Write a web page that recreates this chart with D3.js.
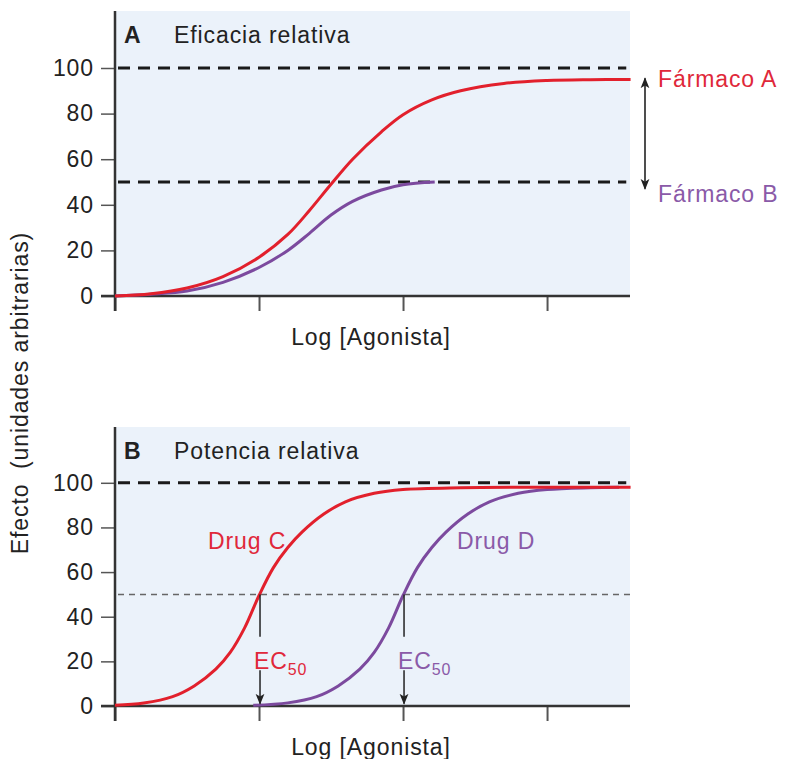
<!DOCTYPE html>
<html>
<head>
<meta charset="utf-8">
<script src="https://cdn.jsdelivr.net/npm/d3@7"></script>
<style>
  body { margin: 0; background: #fff; }
  text { font-family: "Liberation Sans", Arial, sans-serif; letter-spacing: 0.9px; }
</style>
</head>
<body>
<script>
// data: [log concentration, effect]
const farmacoA = [[0,0],[0.25,1],[0.5,3.5],[0.75,8.5],[1,17],[1.2,27],[1.35,37.5],[1.5,49],[1.65,60],[1.85,72],[2,79.5],[2.2,86],[2.4,90],[2.7,93.2],[3,94.5],[3.3,94.9],[3.58,95]];
const farmacoB = [[0,0],[0.25,0.8],[0.5,2.2],[0.75,6],[1,12.5],[1.2,20],[1.35,27.5],[1.5,35.5],[1.65,41.5],[1.85,46.5],[2,48.8],[2.22,50]];
const drugC = [[0,0.3],[0.2,1.3],[0.4,4.2],[0.55,9],[0.7,16.5],[0.8,24],[0.9,35],[1,49.5],[1.1,62],[1.2,71],[1.3,78],[1.45,86],[1.6,91.5],[1.8,95.3],[2,97],[2.4,97.8],[3,98],[3.58,98]];
const drugD = [[0.96,0.3],[1.2,1.4],[1.4,4.2],[1.55,9],[1.7,16.5],[1.8,24],[1.9,35],[2,49.5],[2.1,62],[2.2,71],[2.3,78],[2.45,86],[2.6,91.5],[2.8,95.3],[3,97],[3.3,97.8],[3.5,98]];
const yTicks = [0, 20, 40, 60, 80, 100];
const xTicks = [0, 1, 2, 3];
const ec50 = [1, 2];          // log EC50 of drug C and drug D
const refA = [100, 50];       // thick dashed lines, panel A
const refB = [100];           // thick dashed line, panel B
const halfB = [50];           // thin dashed line, panel B

const red = "#e2202c", purple = "#7c4a9e";
const redText = "#e0283a", purpleText = "#8a5aa8";
const bg = "#ebf2fa", axisCol = "#333";

const width = 786, height = 759;
const svg = d3.select("body").append("svg")
  .attr("width", width)
  .attr("height", height);

const defs = svg.append("defs");
defs.append("marker")
  .attr("id", "head")
  .attr("viewBox", "0 0 10 10")
  .attr("refX", 9).attr("refY", 5)
  .attr("markerWidth", 11).attr("markerHeight", 11)
  .attr("markerUnits", "userSpaceOnUse")
  .attr("orient", "auto-start-reverse")
  .append("path")
  .attr("d", "M0,1 L10,5 L0,9 L2.5,5 Z")
  .attr("fill", "#222");

const x = d3.scaleLinear().domain([0, 3.576]).range([115, 630]);

function panel(top, bottom, letter, title) {
  const y = d3.scaleLinear().domain([0, 125]).range([bottom, top]);
  const g = svg.append("g");

  g.append("rect")
    .attr("x", x(0)).attr("y", y(125))
    .attr("width", x(3.576) - x(0)).attr("height", y(0) - y(125))
    .attr("fill", bg);

  const yAxis = g.append("g")
    .attr("transform", `translate(${x(0)},0)`)
    .call(d3.axisLeft(y).tickValues(yTicks).tickSize(14).tickPadding(7));
  yAxis.select(".domain").remove();
  yAxis.selectAll(".tick line").attr("stroke", "#555").attr("stroke-width", 1.5);
  yAxis.selectAll(".tick text")
    .attr("font-size", 23).attr("fill", "#222")
    .attr("font-family", "Liberation Sans, Arial, sans-serif");

  const xAxis = g.append("g")
    .attr("transform", `translate(0,${y(0)})`)
    .call(d3.axisBottom(x).tickValues(xTicks).tickSize(15).tickFormat(""));
  xAxis.select(".domain").remove();
  xAxis.selectAll(".tick line").attr("stroke", "#555").attr("stroke-width", 2);

  // axis lines
  g.append("line")
    .attr("x1", x(0)).attr("x2", x(0))
    .attr("y1", y(125)).attr("y2", y(0) + 15)
    .attr("stroke", axisCol).attr("stroke-width", 2.5);
  g.append("line")
    .attr("x1", x(0) - 14).attr("x2", x(3.576))
    .attr("y1", y(0)).attr("y2", y(0))
    .attr("stroke", axisCol).attr("stroke-width", 2.5);

  g.append("text")
    .attr("x", 124).attr("y", y(125) + 32)
    .attr("font-size", 23).attr("font-weight", "bold").attr("fill", "#222")
    .text(letter);
  g.append("text")
    .attr("x", 174).attr("y", y(125) + 32)
    .attr("font-size", 23).attr("fill", "#222")
    .text(title);

  g.append("text")
    .attr("x", 371).attr("y", y(0) + 49)
    .attr("text-anchor", "middle")
    .attr("font-size", 23).attr("fill", "#222")
    .text("Log [Agonista]");

  return { g, y };
}

const line = (y) => d3.line()
  .x(d => x(d[0]))
  .y(d => y(d[1]))
  .curve(d3.curveCatmullRom.alpha(0.5));

// ---- Panel A
const A = panel(11, 296, "A", "Eficacia relativa");

A.g.selectAll(".ref")
  .data(refA)
  .enter()
  .append("line")
  .attr("x1", x(0) + 3).attr("x2", x(3.55))
  .attr("y1", d => A.y(d)).attr("y2", d => A.y(d))
  .attr("stroke", "#1a1a1a").attr("stroke-width", 3)
  .attr("stroke-dasharray", "12,8");

A.g.append("path").datum(farmacoB)
  .attr("d", line(A.y))
  .attr("fill", "none").attr("stroke", purple).attr("stroke-width", 3);
A.g.append("path").datum(farmacoA)
  .attr("d", line(A.y))
  .attr("fill", "none").attr("stroke", red).attr("stroke-width", 3);

A.g.append("line")
  .attr("x1", 645).attr("x2", 645)
  .attr("y1", A.y(95.5)).attr("y2", A.y(47))
  .attr("stroke", "#222").attr("stroke-width", 1.6)
  .attr("marker-start", "url(#head)")
  .attr("marker-end", "url(#head)");

A.g.append("text")
  .attr("x", 658).attr("y", A.y(95) + 8)
  .attr("font-size", 23).attr("fill", redText)
  .text("Fármaco A");
A.g.append("text")
  .attr("x", 658).attr("y", A.y(45) + 9)
  .attr("font-size", 23).attr("fill", purpleText)
  .text("Fármaco B");

// ---- Panel B
const B = panel(427, 706, "B", "Potencia relativa");

B.g.selectAll(".ref")
  .data(refB)
  .enter()
  .append("line")
  .attr("x1", x(0) + 3).attr("x2", x(3.55))
  .attr("y1", d => B.y(d)).attr("y2", d => B.y(d))
  .attr("stroke", "#1a1a1a").attr("stroke-width", 3)
  .attr("stroke-dasharray", "12,8");

B.g.selectAll(".half")
  .data(halfB)
  .enter()
  .append("line")
  .attr("x1", x(0) + 3).attr("x2", x(3.576))
  .attr("y1", d => B.y(d)).attr("y2", d => B.y(d))
  .attr("stroke", "#666").attr("stroke-width", 1.5)
  .attr("stroke-dasharray", "6,5");

B.g.append("path").datum(drugD)
  .attr("d", line(B.y))
  .attr("fill", "none").attr("stroke", purple).attr("stroke-width", 3);
B.g.append("path").datum(drugC)
  .attr("d", line(B.y))
  .attr("fill", "none").attr("stroke", red).attr("stroke-width", 3);

// EC50 arrows (broken by the label)
ec50.forEach(v => {
  B.g.append("line")
    .attr("x1", x(v) + 1).attr("x2", x(v) + 1)
    .attr("y1", B.y(50)).attr("y2", B.y(31))
    .attr("stroke", "#222").attr("stroke-width", 1.5);
  B.g.append("line")
    .attr("x1", x(v) + 1).attr("x2", x(v) + 1)
    .attr("y1", B.y(16)).attr("y2", B.y(1))
    .attr("stroke", "#222").attr("stroke-width", 1.5)
    .attr("marker-end", "url(#head)");
});

const ecLabels = [{ v: ec50[0], c: redText }, { v: ec50[1], c: purpleText }];
ecLabels.forEach(d => {
  const t = B.g.append("text")
    .attr("x", x(d.v) - 5).attr("y", B.y(16.5))
    .attr("font-size", 23).attr("fill", d.c);
  t.append("tspan").text("EC");
  t.append("tspan").attr("font-size", 16).attr("dy", 6).text("50");
});

B.g.append("text")
  .attr("x", 208).attr("y", B.y(70.5))
  .attr("font-size", 23).attr("fill", redText)
  .text("Drug C");
B.g.append("text")
  .attr("x", 457).attr("y", B.y(70.5))
  .attr("font-size", 23).attr("fill", purpleText)
  .text("Drug D");

// shared y title
svg.append("text")
  .attr("transform", "translate(28,393) rotate(-90)")
  .attr("text-anchor", "middle")
  .attr("font-size", 23).attr("fill", "#222")
  .attr("xml:space", "preserve")
  .text("Efecto  (unidades arbitrarias)");
</script>
</body>
</html>
